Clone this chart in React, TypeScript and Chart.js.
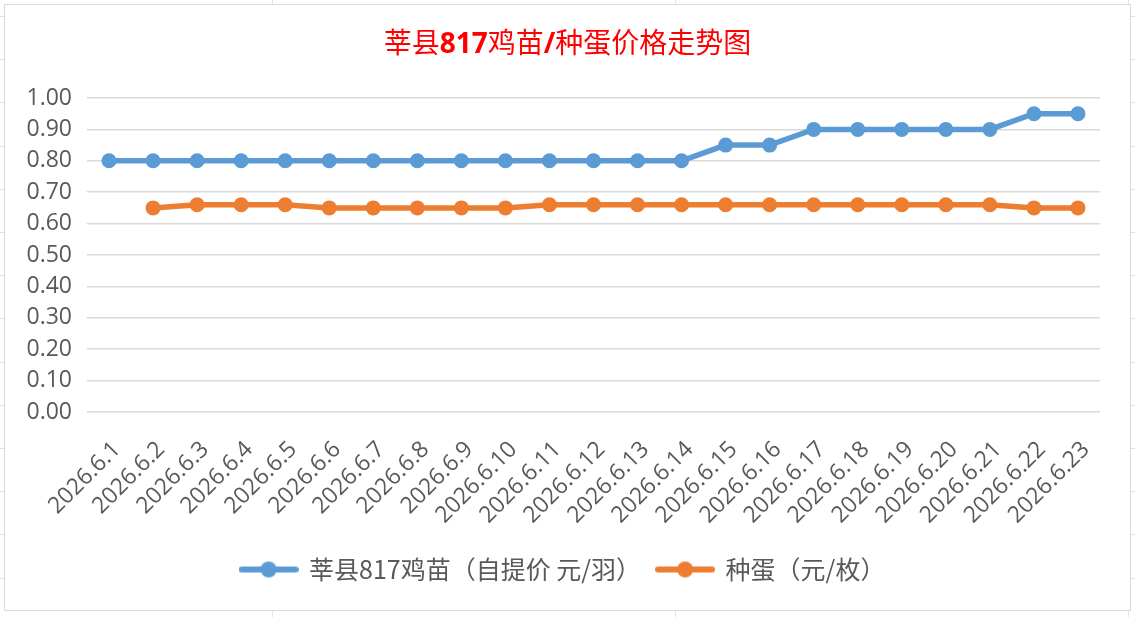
import { useEffect, useRef } from "react";
import { Chart, registerables } from "chart.js";
Chart.register(...registerables);

const dates = [
  "2026.6.1", "2026.6.2", "2026.6.3", "2026.6.4", "2026.6.5", "2026.6.6",
  "2026.6.7", "2026.6.8", "2026.6.9", "2026.6.10", "2026.6.11", "2026.6.12",
  "2026.6.13", "2026.6.14", "2026.6.15", "2026.6.16", "2026.6.17", "2026.6.18",
  "2026.6.19", "2026.6.20", "2026.6.21", "2026.6.22", "2026.6.23",
];
// 莘县817鸡苗（自提价 元/羽）
const chickPrice = [
  0.8, 0.8, 0.8, 0.8, 0.8, 0.8, 0.8, 0.8, 0.8, 0.8, 0.8, 0.8, 0.8, 0.8,
  0.85, 0.85, 0.9, 0.9, 0.9, 0.9, 0.9, 0.95, 0.95,
];
// 种蛋（元/枚）
const eggPrice = [
  null, 0.65, 0.66, 0.66, 0.66, 0.65, 0.65, 0.65, 0.65, 0.65, 0.66, 0.66,
  0.66, 0.66, 0.66, 0.66, 0.66, 0.66, 0.66, 0.66, 0.66, 0.65, 0.65,
];
const seriesNames = ["莘县817鸡苗（自提价 元/羽）", "种蛋（元/枚）"];
const seriesColors = ["#5B9BD5", "#ED7D31"];

const TICK_FONT = "'Open Sans', 'Noto Sans', sans-serif";
const CJK_FONT = "'Noto Sans CJK SC', 'Open Sans', sans-serif";

// legend marker: short line with a dot in the middle
function legendMarker(color) {
  const c = document.createElement("canvas");
  c.width = 60;
  c.height = 18;
  const g = c.getContext("2d");
  g.strokeStyle = color;
  g.lineWidth = 6;
  g.lineCap = "round";
  g.beginPath();
  g.moveTo(3, 9);
  g.lineTo(57, 9);
  g.stroke();
  g.fillStyle = color;
  g.beginPath();
  g.arc(30, 9, 8, 0, Math.PI * 2);
  g.fill();
  return c;
}

function PriceChart() {
  const chartRef = useRef(null);
  const chartInstance = useRef(null);

  useEffect(() => {
    const ctx = chartRef.current?.getContext("2d");
    const markers = seriesColors.map(legendMarker);
    chartInstance.current = new Chart(ctx, {
      type: "line",
      data: {
        labels: dates,
        datasets: [chickPrice, eggPrice].map((values, i) => ({
          label: seriesNames[i],
          data: values,
          borderColor: seriesColors[i],
          backgroundColor: seriesColors[i],
          borderWidth: 5.5,
          pointRadius: 7.5,
          pointHoverRadius: 7.5,
          pointBorderWidth: 0,
          pointBackgroundColor: seriesColors[i],
          tension: 0,
        })),
      },
      options: {
        animation: false,
        responsive: false,
        maintainAspectRatio: false,
        layout: { padding: { left: 21, top: 93, right: 30, bottom: 18 } },
        plugins: {
          title: { display: false },
          tooltip: { enabled: false },
          legend: {
            position: "bottom",
            labels: {
              usePointStyle: true,
              pointStyleWidth: 56,
              boxHeight: 18,
              padding: 16,
              color: "#595959",
              font: { family: CJK_FONT, size: 25 },
              generateLabels: (chart) =>
                Chart.defaults.plugins.legend.labels
                  .generateLabels(chart)
                  .map((item, i) => ({ ...item, pointStyle: markers[i] })),
            },
          },
        },
        scales: {
          x: {
            offset: true,
            grid: { display: false, drawTicks: false },
            border: { display: false },
            ticks: {
              autoSkip: false,
              maxRotation: 45,
              minRotation: 45,
              padding: 24,
              labelOffset: 8,
              color: "#595959",
              font: { family: TICK_FONT, size: 23 },
            },
            afterFit: (scale) => {
              scale.height = 129;
            },
          },
          y: {
            min: 0,
            max: 1,
            grid: { color: "#d9d9d9", lineWidth: 1.5, drawTicks: false },
            border: { display: false },
            ticks: {
              stepSize: 0.1,
              padding: 15,
              color: "#595959",
              font: { family: TICK_FONT, size: 23 },
              callback: (v) => Number(v).toFixed(2),
            },
            afterFit: (scale) => {
              scale.width = 61;
            },
          },
        },
      },
    });

    return () => {
      chartInstance.current?.destroy();
    };
  }, []);

  return <canvas ref={chartRef} width={1125} height={605} />;
}

export default function App() {
  const gridLines = [272, 675, 1128];
  return (
    <div
      style={{
        position: "absolute",
        left: 0,
        top: 0,
        width: 1135,
        height: 617,
        overflow: "hidden",
        background:
          "repeating-linear-gradient(to bottom, transparent 0px, transparent 16px, #e3e3e3 16px, #e3e3e3 17px, transparent 17px, transparent 43.2px) #fff",
      }}
    >
      {gridLines.map((x) => (
        <div
          key={x}
          style={{ position: "absolute", left: x, top: 0, width: 1, height: 617, background: "#e3e3e3" }}
        />
      ))}
      <div
        style={{
          position: "absolute",
          left: 4,
          top: 4,
          width: 1125,
          height: 605,
          border: "1.5px solid #d9d9d9",
          background: "#fff",
        }}
      >
        <PriceChart />
        <div
          style={{
            position: "absolute",
            left: 0,
            right: 0,
            top: 18,
            lineHeight: "36px",
            textAlign: "center",
            color: "#ff0000",
            fontFamily: CJK_FONT,
            fontSize: 28,
          }}
        >
          莘县<b style={{ fontFamily: TICK_FONT }}>817</b>鸡苗<b style={{ fontFamily: TICK_FONT }}>/</b>种蛋价格走势图
        </div>
      </div>
    </div>
  );
}
